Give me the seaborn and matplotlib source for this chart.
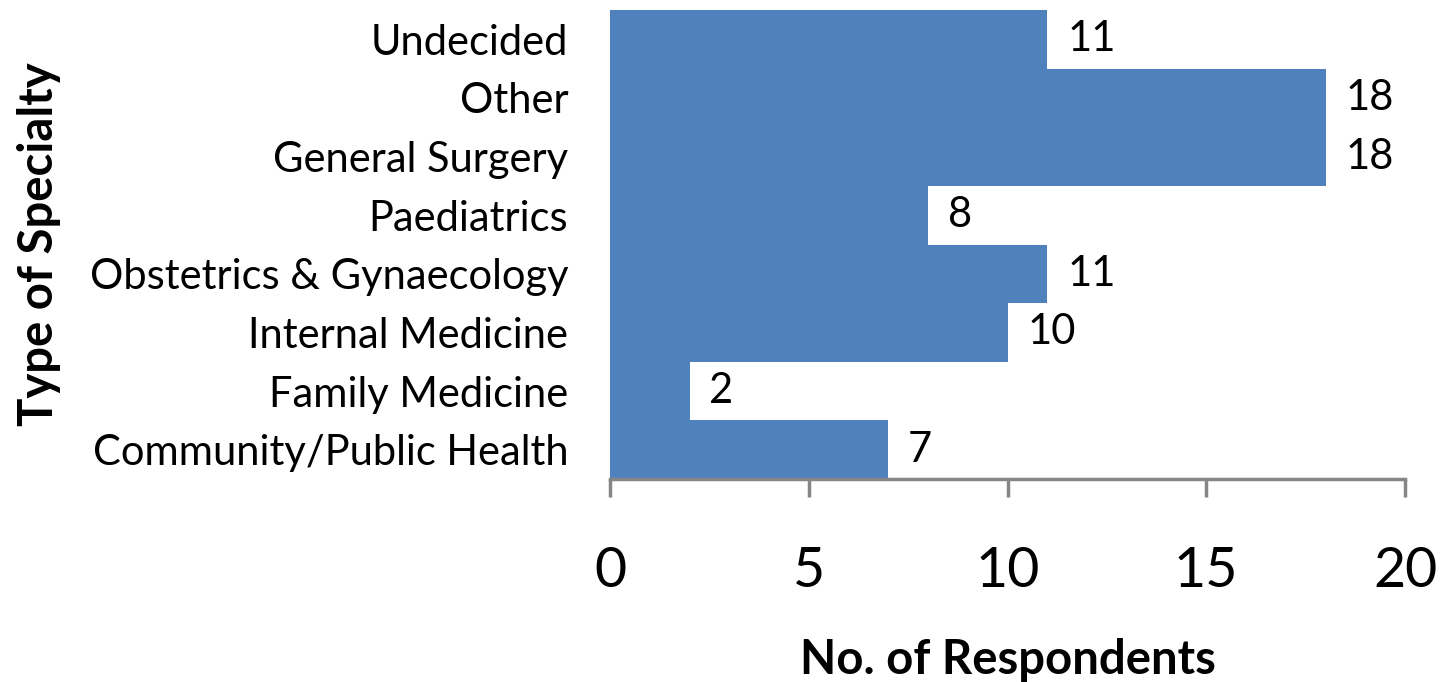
import matplotlib
matplotlib.use("Agg")
import matplotlib.pyplot as plt
import seaborn as sns
import pandas as pd

categories = ["Undecided", "Other", "General Surgery", "Paediatrics",
              "Obstetrics & Gynaecology", "Internal Medicine", "Family Medicine",
              "Community/Public Health"]
values = [11, 18, 18, 8, 11, 10, 2, 7]
xticks = [0, 5, 10, 15, 20]

df = pd.DataFrame({"Specialty": categories, "Count": values})

sns.set_style("white")
plt.rcParams['font.family'] = ['Lato', 'DejaVu Sans']

fig = plt.figure(figsize=(14.45, 6.82), dpi=100)
ax = fig.add_axes([610/1445, 1 - 479/682, (1405-610)/1445, (479-10)/682])

sns.barplot(data=df, x="Count", y="Specialty", order=categories, orient="h",
            color="#4F81BD", saturation=1, width=1.0, ax=ax, linewidth=0)

ax.set_xlim(0, 20)
ax.set_ylim(len(categories) - 0.5, -0.5)
ax.set_xticks(xticks)
ax.set_xticklabels([str(t) for t in xticks], fontsize=40, color="black")
ax.tick_params(axis="x", bottom=True, direction="out", length=13, width=2.5,
               color="#868686", pad=35)
ax.tick_params(axis="y", left=False, length=0, pad=30, labelsize=30, labelcolor="black")

for s in ["top", "right", "left"]:
    ax.spines[s].set_visible(False)
ax.spines["bottom"].set_color("#868686")
ax.spines["bottom"].set_linewidth(2.5)

for i, v in enumerate(values):
    ax.text(v + 0.5, i, str(v), va="center", ha="left", fontsize=30, color="black")

ax.set_xlabel("No. of Respondents", fontsize=34, fontweight="bold", color="black")
ax.set_ylabel("Type of Specialty", fontsize=34, fontweight="bold", color="black")
ax.xaxis.set_label_coords(0.5, -(660 - 479) / 469)
ax.xaxis.label.set_va("center")
ax.yaxis.set_label_coords(-(610 - 39) / 795, 0.5)
ax.yaxis.label.set_va("center")

fig.savefig("out.png", dpi=100)
